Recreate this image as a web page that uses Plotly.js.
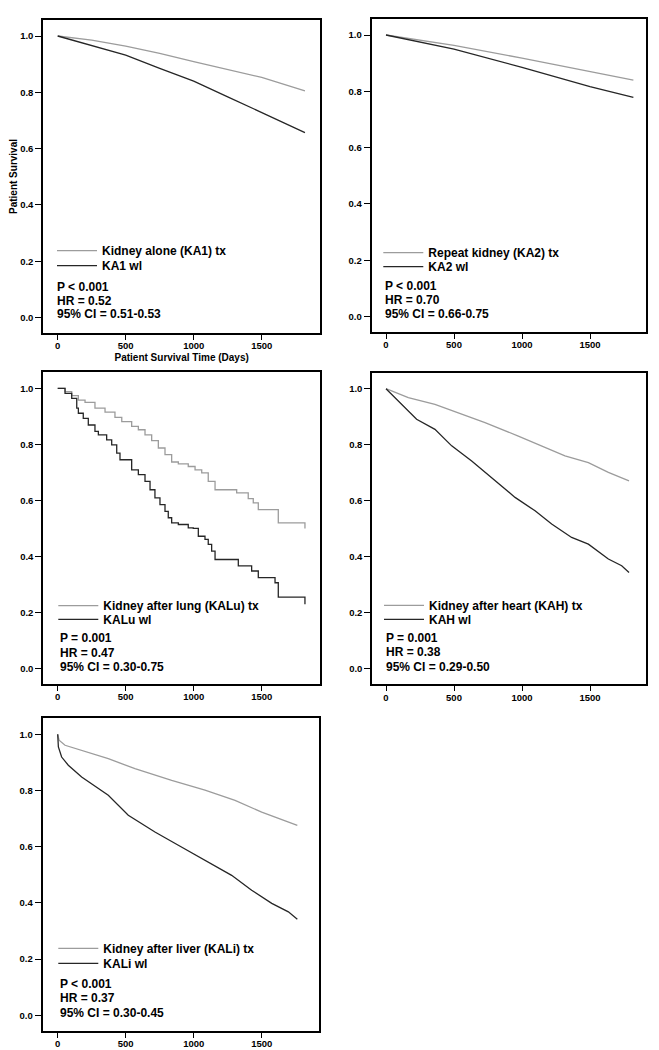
<!DOCTYPE html>
<html>
<head>
<meta charset="utf-8">
<script src="https://cdn.plot.ly/plotly-3.0.1.min.js"></script>
<style>html,body{margin:0;padding:0;background:#fff;}#chart{width:659px;height:1050px;}</style>
</head>
<body>
<div id="chart"></div>
<script>
// ---------- data (days, survival) ----------
const ka1TxDays = [0, 250, 500, 750, 1000, 1250, 1500, 1818];
const ka1TxSurv = [1.0, 0.985, 0.964, 0.938, 0.909, 0.882, 0.853, 0.805];
const ka1WlDays = [0, 250, 500, 750, 1000, 1250, 1500, 1818];
const ka1WlSurv = [1.0, 0.966, 0.932, 0.885, 0.840, 0.784, 0.728, 0.657];

const ka2TxDays = [0, 500, 1000, 1500, 1819];
const ka2TxSurv = [1.0, 0.963, 0.918, 0.870, 0.840];
const ka2WlDays = [0, 500, 1000, 1500, 1819];
const ka2WlSurv = [1.0, 0.950, 0.885, 0.817, 0.778];

const kaluTxDays = [0, 54, 103, 152, 201, 274, 348, 421, 471, 544, 593, 642, 691, 740, 789, 838, 887, 960, 1010, 1059, 1107, 1157, 1304, 1316, 1401, 1438, 1475, 1598, 1622, 1813, 1818];
const kaluTxSurv = [1.0, 0.988, 0.974, 0.958, 0.950, 0.929, 0.915, 0.896, 0.881, 0.864, 0.852, 0.834, 0.813, 0.787, 0.763, 0.737, 0.730, 0.721, 0.709, 0.698, 0.668, 0.638, 0.638, 0.627, 0.606, 0.591, 0.567, 0.567, 0.520, 0.520, 0.500];
const kaluWlDays = [0, 54, 103, 140, 152, 188, 225, 274, 299, 360, 397, 434, 458, 544, 593, 642, 679, 715, 752, 789, 813, 838, 887, 960, 997, 1034, 1083, 1107, 1132, 1157, 1279, 1328, 1426, 1475, 1598, 1622, 1813, 1818];
const kaluWlSurv = [1.0, 0.982, 0.964, 0.929, 0.911, 0.893, 0.869, 0.846, 0.834, 0.816, 0.798, 0.769, 0.745, 0.709, 0.692, 0.668, 0.638, 0.609, 0.585, 0.561, 0.538, 0.520, 0.514, 0.502, 0.500, 0.472, 0.461, 0.443, 0.419, 0.389, 0.389, 0.366, 0.348, 0.324, 0.306, 0.255, 0.255, 0.229];

const kahTxDays = [0, 164, 360, 532, 728, 973, 1145, 1316, 1488, 1635, 1787];
const kahTxSurv = [1.0, 0.968, 0.944, 0.914, 0.879, 0.831, 0.796, 0.760, 0.736, 0.701, 0.671];
const kahWlDays = [0, 115, 225, 360, 483, 630, 777, 949, 1096, 1218, 1365, 1488, 1635, 1733, 1787];
const kahWlSurv = [1.0, 0.944, 0.891, 0.855, 0.796, 0.742, 0.683, 0.612, 0.564, 0.517, 0.469, 0.445, 0.392, 0.368, 0.344];

const kaliTxDays = [0, 10, 54, 151, 372, 568, 838, 1083, 1304, 1500, 1622, 1762];
const kaliTxSurv = [1.0, 0.979, 0.961, 0.946, 0.913, 0.878, 0.836, 0.801, 0.765, 0.723, 0.700, 0.676];
const kaliWlDays = [0, 5, 29, 78, 176, 372, 519, 715, 887, 1083, 1279, 1426, 1574, 1696, 1762];
const kaliWlSurv = [1.0, 0.955, 0.919, 0.890, 0.848, 0.783, 0.712, 0.652, 0.605, 0.552, 0.498, 0.445, 0.398, 0.368, 0.342];

const txNames = ["Kidney alone (KA1) tx", "Repeat kidney (KA2) tx", "Kidney after lung (KALu) tx", "Kidney after heart (KAH) tx", "Kidney after liver (KALi) tx"];
const wlNames = ["KA1 wl", "KA2 wl", "KALu wl", "KAH wl", "KALi wl"];
const pValues = ["P < 0.001", "P < 0.001", "P = 0.001", "P = 0.001", "P < 0.001"];
const hrValues = ["HR = 0.52", "HR = 0.70", "HR = 0.47", "HR = 0.38", "HR = 0.37"];
const ciValues = ["95% CI = 0.51-0.53", "95% CI = 0.66-0.75", "95% CI = 0.30-0.75", "95% CI = 0.29-0.50", "95% CI = 0.30-0.45"];
const xTicks = [0, 500, 1000, 1500];
const yTicks = [0, 0.2, 0.4, 0.6, 0.8, 1.0];

const txData = [[ka1TxDays, ka1TxSurv], [ka2TxDays, ka2TxSurv], [kaluTxDays, kaluTxSurv], [kahTxDays, kahTxSurv], [kaliTxDays, kaliTxSurv]];
const wlData = [[ka1WlDays, ka1WlSurv], [ka2WlDays, ka2WlSurv], [kaluWlDays, kaluWlSurv], [kahWlDays, kahWlSurv], [kaliWlDays, kaliWlSurv]];
const shapes = ["linear", "linear", "hv", "linear", "linear"];

// ---------- layout geometry (pixels) ----------
const W = 659, H = 1050;
const boxes = [
  {l: 43.3, r: 320, t: 20, b: 333, x0: 57.7},
  {l: 371.7, r: 646, t: 19, b: 332, x0: 386},
  {l: 43.3, r: 320, t: 372.3, b: 684, x0: 57.7},
  {l: 372.3, r: 646, t: 372.7, b: 684.3, x0: 386},
  {l: 42.7, r: 319.3, t: 718.3, b: 1030.7, x0: 57.7}
];
const legPos = [
  {x: 57, yTx: 250.7, yWl: 265.7, sx: 55, sy: [286.7, 301, 314.3]},
  {x: 383.3, yTx: 252.7, yWl: 266.7, sx: 383.3, sy: [286, 300, 314.3]},
  {x: 58.3, yTx: 605.7, yWl: 619.3, sx: 57.7, sy: [638.3, 652.7, 666.7]},
  {x: 384, yTx: 605.3, yWl: 619.3, sx: 384, sy: [638.3, 652.3, 666.7]},
  {x: 58.3, yTx: 948.3, yWl: 963.3, sx: 57.7, sy: [984, 998.3, 1012.7]}
];
const pxPerDay = 68 / 500;
const fx = p => p / W, fy = p => 1 - p / H;
const FONT = "Liberation Sans, Arial, sans-serif";
const NARROW = "Liberation Sans Narrow, Arial Narrow, Liberation Sans, sans-serif";

const traces = [];
const layout = {
  width: W, height: H, margin: {l: 0, r: 0, t: 0, b: 0},
  paper_bgcolor: "#fff", plot_bgcolor: "#fff",
  showlegend: true, annotations: [],
  font: {family: FONT, color: "#000"}
};

boxes.forEach((bx, i) => {
  const n = i + 1;
  const xa = n === 1 ? "xaxis" : "xaxis" + n;
  const ya = n === 1 ? "yaxis" : "yaxis" + n;
  const xr = n === 1 ? "x" : "x" + n;
  const yr = n === 1 ? "y" : "y" + n;
  const yTop1 = bx.t + 16, y0 = bx.b - 15.5; // pixel of 1.0 and 0.0
  const unit = (y0 - yTop1);
  layout[xa] = {
    domain: [fx(bx.l), fx(bx.r)], anchor: yr,
    range: [(bx.l - bx.x0) / pxPerDay, (bx.r - bx.x0) / pxPerDay],
    tickvals: xTicks, ticks: "outside", ticklen: 5, tickwidth: 1, tickcolor: "#000",
    ticklabelstandoff: -2,
    showline: true, mirror: true, linewidth: 2, linecolor: "#000",
    showgrid: false, zeroline: false,
    tickfont: {family: NARROW, size: 9.5, weight: 700, color: "#000"}
  };
  layout[ya] = {
    domain: [fy(bx.b), fy(bx.t)], anchor: xr,
    range: [-(bx.b - y0) / unit, 1 + (yTop1 - bx.t) / unit],
    tickvals: yTicks, tickformat: ".1f", ticks: "outside", ticklen: 6, tickwidth: 1, tickcolor: "#000",
    showline: true, mirror: true, linewidth: 2, linecolor: "#000",
    showgrid: false, zeroline: false,
    tickfont: {family: NARROW, size: 9.5, weight: 700, color: "#000"}
  };
  if (n === 1) {
    layout[xa].title = {text: "Patient Survival Time (Days)", font: {family: FONT, size: 10, weight: 700}, standoff: 4};
    layout[ya].title = {text: "Patient Survival", font: {family: FONT, size: 10, weight: 700}, standoff: 1};
  }
  const lgTx = "legend" + (2 * i === 0 ? "" : (2 * i + 1));
  const lgWl = "legend" + (2 * i + 2);
  traces.push({
    x: txData[i][0], y: txData[i][1], xaxis: xr, yaxis: yr, type: "scatter", mode: "lines",
    line: {color: "#9c9c9c", width: 1.3, shape: shapes[i]}, name: txNames[i], legend: lgTx
  });
  traces.push({
    x: wlData[i][0], y: wlData[i][1], xaxis: xr, yaxis: yr, type: "scatter", mode: "lines",
    line: {color: "#262626", width: 1.3, shape: shapes[i]}, name: wlNames[i], legend: lgWl
  });
  const lp = legPos[i];
  const legCommon = {xanchor: "left", yanchor: "middle", bgcolor: "rgba(0,0,0,0)", borderwidth: 0,
    font: {family: FONT, size: 12, weight: 700, color: "#000"}, itemwidth: 40, itemclick: false, itemdoubleclick: false};
  layout[lgTx] = Object.assign({x: fx(lp.x - 5), y: fy(lp.yTx)}, legCommon);
  layout[lgWl] = Object.assign({x: fx(lp.x - 5), y: fy(lp.yWl)}, legCommon);
  [pValues[i], hrValues[i], ciValues[i]].forEach((t, k) => {
    layout.annotations.push({
      text: t, xref: "paper", yref: "paper", x: fx(lp.sx), y: fy(lp.sy[k]),
      xanchor: "left", yanchor: "middle", showarrow: false,
      font: {family: FONT, size: 12, weight: 700, color: "#000"}
    });
  });
});

Plotly.newPlot("chart", traces, layout, {staticPlot: true, displayModeBar: false});
</script>
</body>
</html>
